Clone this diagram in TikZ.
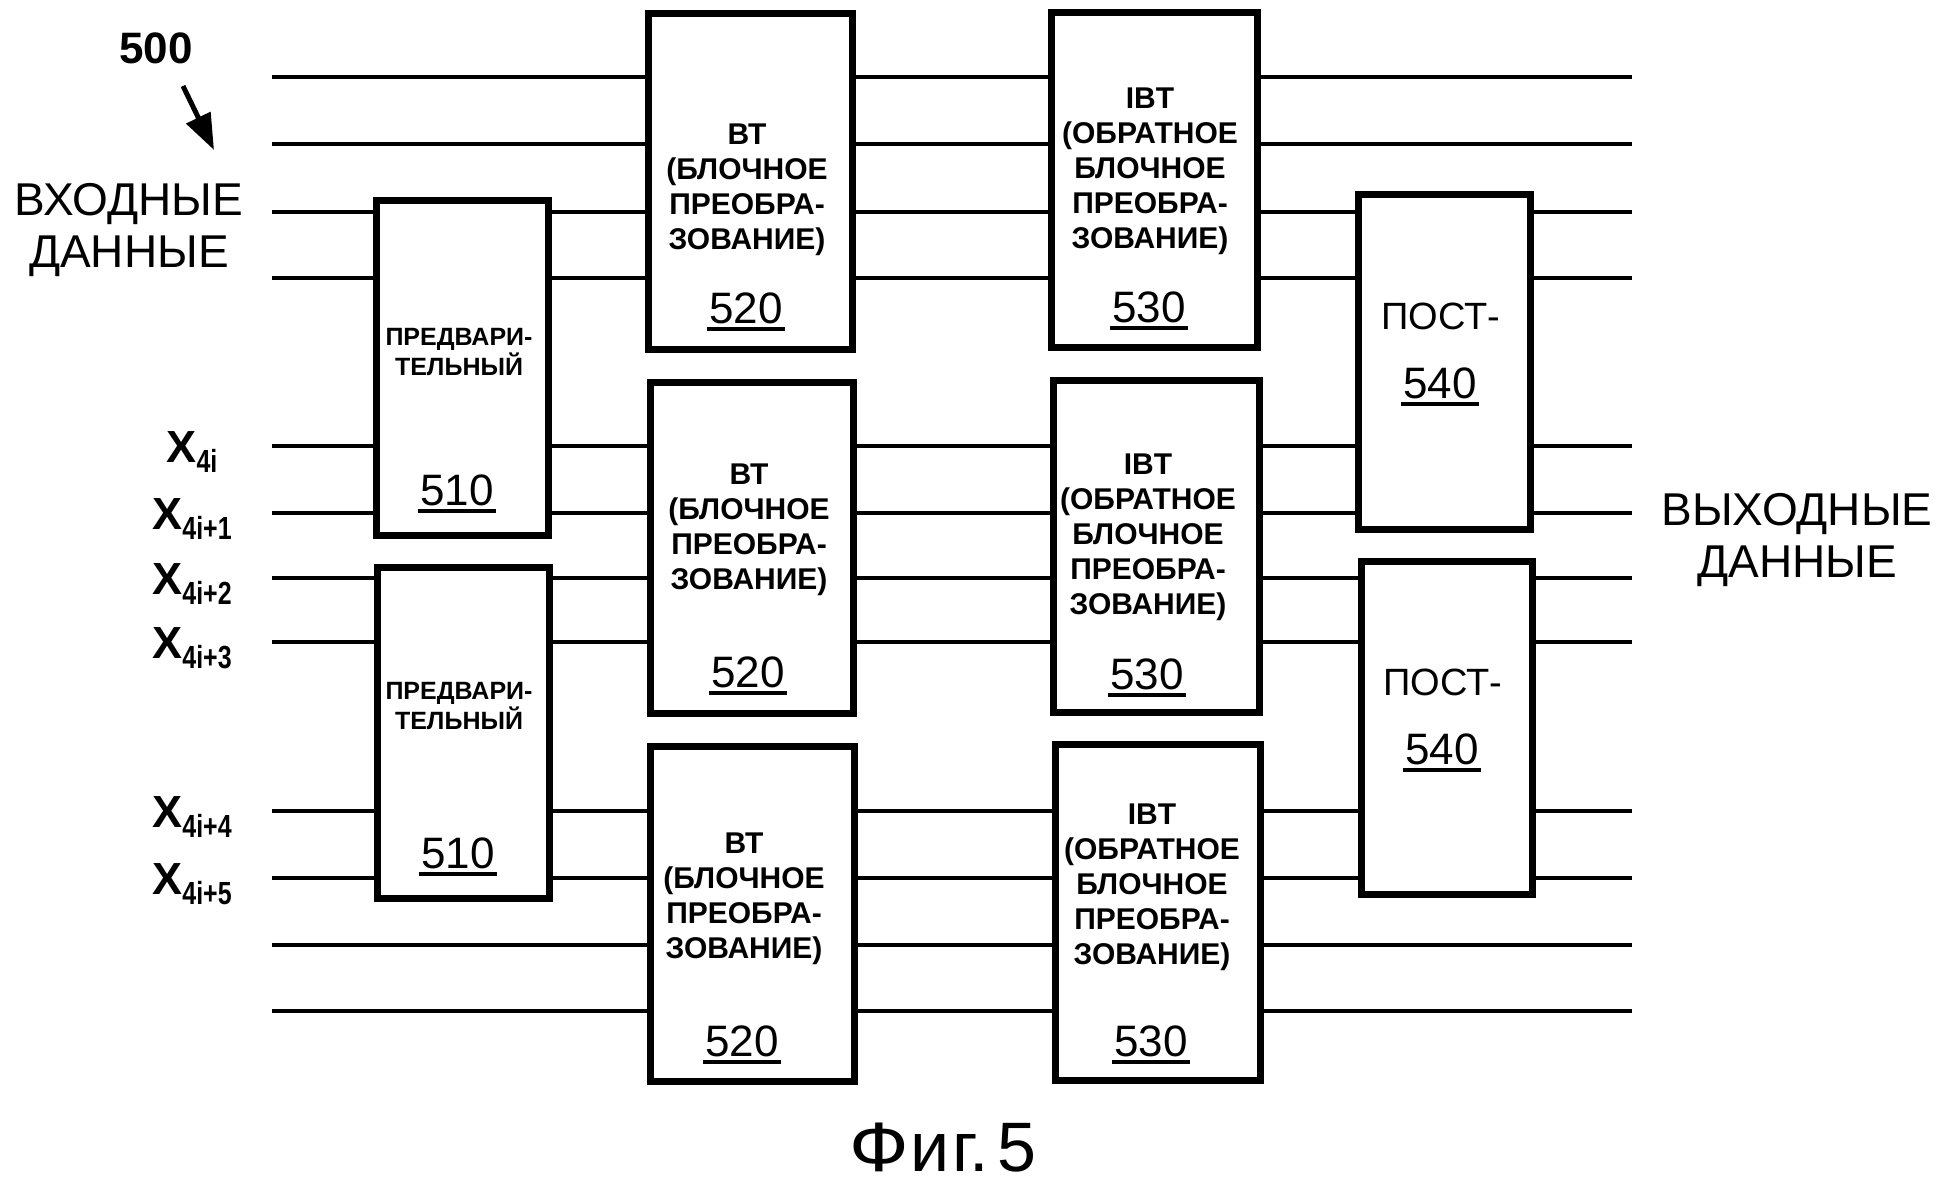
\documentclass[tikz,border=0pt]{standalone}
\usepackage{fontspec}
\usepackage{graphicx}
\setmainfont{Liberation Sans}
\usetikzlibrary{arrows.meta}
\newcommand{\xlab}[1]{X\raisebox{-10pt}{\scalebox{0.78}[1]{\fontsize{32}{32}\selectfont #1}}}
\newcommand{\ulnum}[1]{\setbox0\hbox{#1}\rlap{\hspace{-2pt}\rule[-8pt]{\dimexpr\wd0+4pt\relax}{4pt}}\box0}
\tikzset{
 blk/.style={draw, line width=6.5pt, inner sep=0pt, anchor=north west},
 wire/.style={line width=4.5pt},
 btxt/.style={align=center, font=\fontsize{30}{35}\selectfont\bfseries, inner sep=0pt},
 ptxt/.style={align=center, font=\fontsize{25}{30}\selectfont\bfseries, inner sep=0pt},
 num/.style={font=\fontsize{44}{44}\selectfont, anchor=base, inner sep=0pt},
 big/.style={align=center, font=\fontsize{46}{52}\selectfont, inner sep=0pt},
 xl/.style={font=\fontsize{45}{45}\selectfont\bfseries, anchor=base, inner sep=0pt},
}
\begin{document}
\begin{tikzpicture}[x=1pt,y=-1pt]
\fill[white] (0,0) rectangle (1941,1186);
\useasboundingbox (0,0) rectangle (1941,1186);
% boxes
\node[blk, minimum width=172pt, minimum height=335pt] (p1) at (373,197) {};
\node[blk, minimum width=172pt, minimum height=331pt] (p2) at (374,564) {};
\node[blk, minimum width=204pt, minimum height=336pt] (b1) at (645,10) {};
\node[blk, minimum width=203pt, minimum height=331pt] (b2) at (647,379) {};
\node[blk, minimum width=204pt, minimum height=335pt] (b3) at (647,743) {};
\node[blk, minimum width=206pt, minimum height=335pt] (i1) at (1048,9) {};
\node[blk, minimum width=206pt, minimum height=332pt] (i2) at (1050,377) {};
\node[blk, minimum width=205pt, minimum height=336pt] (i3) at (1052,741) {};
\node[blk, minimum width=172pt, minimum height=335pt] (q1) at (1355,191) {};
\node[blk, minimum width=171pt, minimum height=333pt] (q2) at (1358,558) {};
% row coordinates
\foreach \i/\y in {1/77,2/144,3/212,4/278,5/446,6/513,7/578,8/642,9/811,10/878,11/945,12/1011}{
  \coordinate (L\i) at (272,\y);
  \coordinate (R\i) at (1632,\y);
}
% wires
\foreach \r/\b/\i in {1/b1/i1,2/b1/i1,11/b3/i3,12/b3/i3}{
  \draw[wire] (L\r) -- (\b.west |- L\r) (\b.east |- L\r) -- (\i.west |- L\r) (\i.east |- L\r) -- (R\r);
}
\foreach \r/\p/\b/\i/\q in {3/p1/b1/i1/q1,4/p1/b1/i1/q1,5/p1/b2/i2/q1,6/p1/b2/i2/q1,7/p2/b2/i2/q2,8/p2/b2/i2/q2,9/p2/b3/i3/q2,10/p2/b3/i3/q2}{
  \draw[wire] (L\r) -- (\p.west |- L\r) (\p.east |- L\r) -- (\b.west |- L\r) (\b.east |- L\r) -- (\i.west |- L\r) (\i.east |- L\r) -- (\q.west |- L\r) (\q.east |- L\r) -- (R\r);
}
% box texts
\node[ptxt] (p1t) at (459,352) {ПРЕДВАРИ-\\ТЕЛЬНЫЙ};
\node[ptxt] (p2t) at (459,706) {ПРЕДВАРИ-\\ТЕЛЬНЫЙ};
\node[num] (p1n) at (457,505) {\ulnum{510}};
\node[num] (p2n) at (458,868) {\ulnum{510}};
\node[btxt] (b1t) at (747,190) {ВТ\\(БЛОЧНОЕ\\ПРЕОБРА-\\ЗОВАНИЕ)};
\node[btxt] (b2t) at (749,530) {ВТ\\(БЛОЧНОЕ\\ПРЕОБРА-\\ЗОВАНИЕ)};
\node[btxt] (b3t) at (744,899) {ВТ\\(БЛОЧНОЕ\\ПРЕОБРА-\\ЗОВАНИЕ)};
\node[num] (b1n) at (746,323) {\ulnum{520}};
\node[num] (b2n) at (748,687) {\ulnum{520}};
\node[num] (b3n) at (742,1056) {\ulnum{520}};
\node[btxt] (i1t) at (1150,171) {IBT\\(ОБРАТНОЕ\\БЛОЧНОЕ\\ПРЕОБРА-\\ЗОВАНИЕ)};
\node[btxt] (i2t) at (1148,537) {IBT\\(ОБРАТНОЕ\\БЛОЧНОЕ\\ПРЕОБРА-\\ЗОВАНИЕ)};
\node[btxt] (i3t) at (1152,887) {IBT\\(ОБРАТНОЕ\\БЛОЧНОЕ\\ПРЕОБРА-\\ЗОВАНИЕ)};
\node[num] (i1n) at (1149,322) {\ulnum{530}};
\node[num] (i2n) at (1147,689) {\ulnum{530}};
\node[num] (i3n) at (1151,1056) {\ulnum{530}};
\node[font=\fontsize{38}{38}\selectfont, inner sep=0pt] (q1t) at (1441,316) {ПОСТ-};
\node[font=\fontsize{38}{38}\selectfont, inner sep=0pt] (q2t) at (1443,682) {ПОСТ-};
\node[num] (q1n) at (1440,398) {\ulnum{540}};
\node[num] (q2n) at (1442,764) {\ulnum{540}};
% input labels
\node[xl] (x0) at (192,462) {\xlab{4i}};
\node[xl] (x1) at (192,529) {\xlab{4i+1}};
\node[xl] (x2) at (192,594) {\xlab{4i+2}};
\node[xl] (x3) at (192,658) {\xlab{4i+3}};
\node[xl] (x4) at (192,827) {\xlab{4i+4}};
\node[xl] (x5) at (192,894) {\xlab{4i+5}};
% titles
\node[big] (inlab) at (129,230) {ВХОДНЫЕ\\ДАННЫЕ};
\node[big] (outlab) at (1797,540) {ВЫХОДНЫЕ\\ДАННЫЕ};
\node[font=\fontsize{44}{44}\selectfont\bfseries, anchor=base, inner sep=0pt] (n500) at (156,63) {500};
\coordinate (a0) at (183,86);
\coordinate (a1) at (214,150);
\draw[line width=5pt, -{Triangle[length=36pt,width=26pt]}] (a0) -- (a1);
\node[font=\fontsize{70}{70}\selectfont, anchor=base, inner sep=0pt] (fig) at (943,1171) {\scalebox{1.12}[1]{Ф}\hspace{1pt}и\hspace{3pt}г.\hspace{8pt}5};
\end{tikzpicture}
\end{document}
